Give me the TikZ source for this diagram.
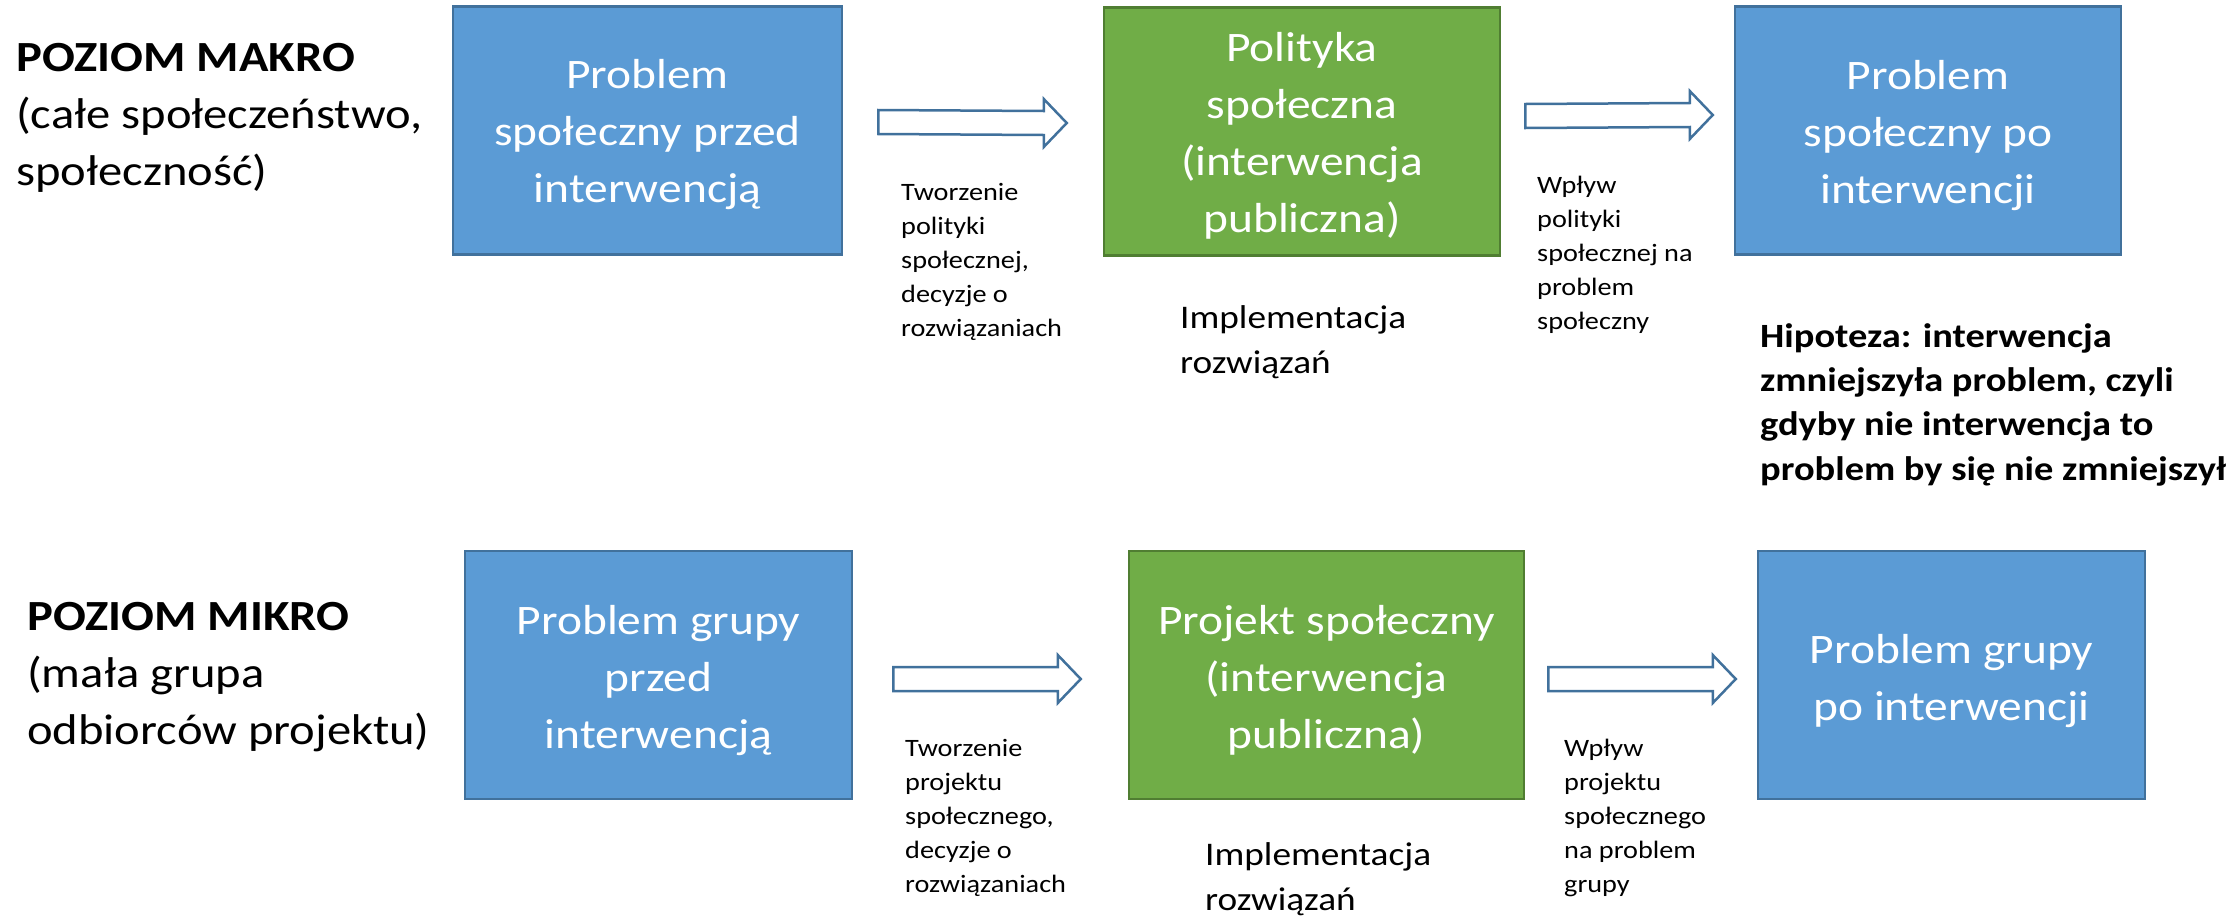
\documentclass[tikz,border=0pt]{standalone}
\usepackage{fontspec}
\setmainfont{Carlito}[FakeStretch=1.13]
\usetikzlibrary{calc}
\definecolor{bfill}{HTML}{5B9BD5}
\definecolor{bline}{HTML}{41719C}
\definecolor{gfill}{HTML}{70AD47}
\definecolor{gline}{HTML}{507E32}
\newcommand\blockarr[2]{%
  \draw[barrow] ($(#1)+(0,-12)$) -- ($(#2)+(-23,-12)$) -- ($(#2)+(-23,-24)$) -- (#2)
    -- ($(#2)+(-23,24)$) -- ($(#2)+(-23,12)$) -- ($(#1)+(0,12)$) -- cycle;}
\begin{document}
\begin{tikzpicture}[x=1pt,y=-1pt,
  bluebox/.style={draw=bline,fill=bfill,line width=2.5pt,inner sep=0pt,minimum height=248pt},
  greenbox/.style={bluebox,draw=gline,fill=gfill},
  boxtext/.style={anchor=base,inner sep=0pt,align=center,text=white,font=\fontsize{42}{57}\selectfont},
  barrow/.style={draw=bline,fill=white,line width=2.5pt,line join=miter},
  small/.style={anchor=base west,inner sep=0pt,align=left,font=\fontsize{25}{34}\selectfont},
  impl/.style={anchor=base west,inner sep=0pt,align=left,font=\fontsize{33}{45}\selectfont},
  level/.style={anchor=base west,inner sep=0pt,align=left,font=\fontsize{43}{57}\selectfont}]
\clip (0,0) rectangle (2228,916);
\fill[white] (0,0) rectangle (2228,916);

% left labels (anchored at the baseline of their last line)
\node[level] (makro) at (16,185) {\textbf{POZIOM MAKRO}\\(całe społeczeństwo,\\społeczność)};
\node[level] (mikro) at (27,744) {\textbf{POZIOM MIKRO}\\(mała grupa\\odbiorców projektu)};

% top row boxes
\node[bluebox,minimum width=389pt] (b1) at (647.5,130.5) {};
\node[greenbox,minimum width=396pt] (b2) at (1302,131.5) {};
\node[bluebox,minimum width=386pt] (b3) at (1928,130.5) {};
\node[boxtext] (t1) at ($(b1.center)+(0,71.5)$) {Problem\\społeczny przed\\interwencją};
\node[boxtext] (t2) at ($(b2.center)+(0,100.5)$) {Polityka\\społeczna\\(interwencja\\publiczna)};
\node[boxtext] (t3) at ($(b3.center)+(0,72.5)$) {Problem\\społeczny po\\interwencji};

% bottom row boxes
\node[bluebox,minimum width=387pt] (b4) at (658.5,675) {};
\node[greenbox,minimum width=395pt] (b5) at (1326.5,675) {};
\node[bluebox,minimum width=387pt] (b6) at (1951.5,675) {};
\node[boxtext] (t4) at ($(b4.center)+(0,73)$) {Problem grupy\\przed\\interwencją};
\node[boxtext] (t5) at ($(b5.center)+(0,73)$) {Projekt społeczny\\(interwencja\\publiczna)};
\node[boxtext] (t6) at ($(b6.center)+(0,45)$) {Problem grupy\\po interwencji};

% arrows
\coordinate (a1s) at ($(b1.east)+(35,-8.5)$);
\coordinate (a1e) at ($(b2.west)+(-36,-8.5)$);
\coordinate (a2s) at ($(b2.east)+(24,-15.5)$);
\coordinate (a2e) at ($(b3.west)+(-21,-15.5)$);
\coordinate (a3s) at ($(b4.east)+(40,4)$);
\coordinate (a3e) at ($(b5.west)+(-47,4)$);
\coordinate (a4s) at ($(b5.east)+(23,4)$);
\coordinate (a4e) at ($(b6.west)+(-21,4)$);
\blockarr{a1s}{a1e}
\blockarr{a2s}{a2e}
\blockarr{a3s}{a3e}
\blockarr{a4s}{a4e}

% arrow labels
\node[small] (l1) at (901,336) {Tworzenie\\polityki\\społecznej,\\decyzje o\\rozwiązaniach};
\node[small] (l2) at (1537,329) {Wpływ\\polityki\\społecznej na\\problem\\społeczny};
\node[small] (l3) at (905,892) {Tworzenie\\projektu\\społecznego,\\decyzje o\\rozwiązaniach};
\node[small] (l4) at (1564,892) {Wpływ\\projektu\\społecznego\\na problem\\grupy};

% implementation labels
\node[impl] (i1) at (1180,373) {Implementacja\\rozwiązań};
\node[impl] (i2) at (1205,910) {Implementacja\\rozwiązań};

% hypothesis
\node[anchor=base west,inner sep=0pt,align=left,font=\fontsize{34}{44.3}\selectfont\bfseries] (hip) at (1760,480)
  {Hipoteza: interwencja\\zmniejszyła problem, czyli\\gdyby nie interwencja to\\problem by się nie zmniejszył};
\end{tikzpicture}
\end{document}
